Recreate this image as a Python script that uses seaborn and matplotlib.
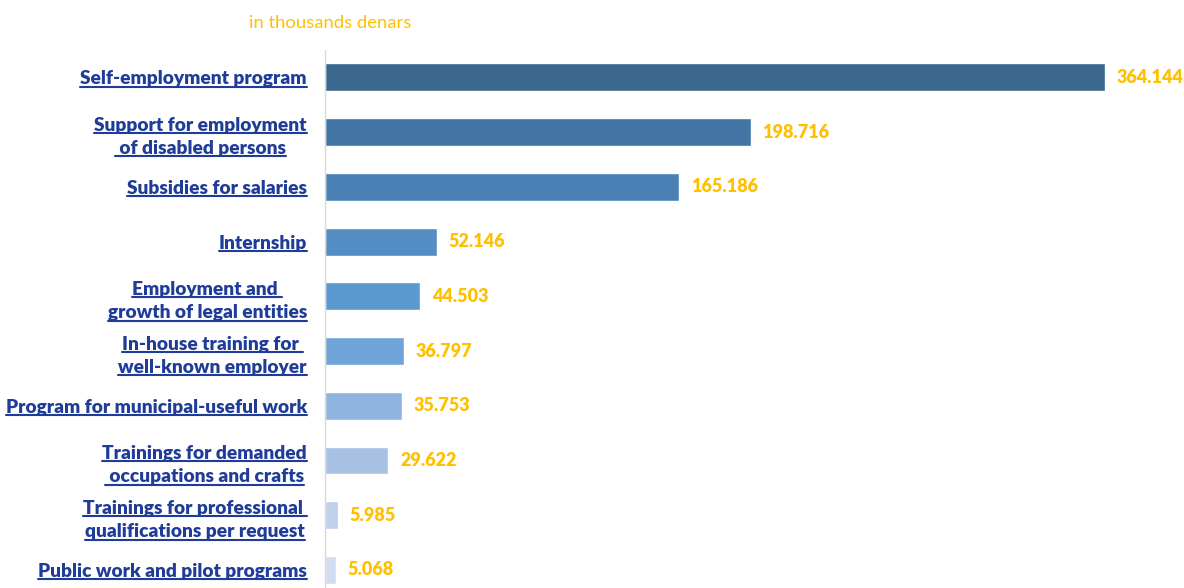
import matplotlib
matplotlib.use("Agg")
import matplotlib.pyplot as plt
import seaborn as sns
import pandas as pd
from matplotlib.lines import Line2D

programs = [
    "Self-employment program",
    "Support for employment\n of disabled persons",
    "Subsidies for salaries",
    "Internship",
    "Employment and \ngrowth of legal entities",
    "In-house training for \nwell-known employer",
    "Program for municipal-useful work",
    "Trainings for demanded\n occupations and crafts",
    "Trainings for professional \nqualifications per request",
    "Public work and pilot programs",
]
amounts = [364.144, 198.716, 165.186, 52.146, 44.503, 36.797, 35.753, 29.622, 5.985, 5.068]
bar_colors = ["#3C6890", "#4375A4", "#4A80B3", "#538DC4", "#5A9AD0",
              "#70A3D7", "#8EB4DF", "#A8C2E5", "#BED0EC", "#D0DDF0"]

label_color = "#1F3C99"
value_color = "#FFC000"
line_spacing = 1.45

sns.set_theme(style="white")
plt.rcParams["font.family"] = ["Lato", "DejaVu Sans"]

df = pd.DataFrame({"program": programs, "amount": amounts})

fig = plt.figure(figsize=(11.84, 5.88), dpi=100)
ax = fig.add_axes([325 / 1184, 0.0, 857 / 1184, 538 / 588])

sns.barplot(data=df, y="program", x="amount", hue="program", palette=bar_colors,
            orient="h", width=0.51, legend=False, ax=ax, saturation=1)

ax.set_xlim(0, 400)
ax.set_ylim(9.33, -0.5)
ax.set_xlabel("")
ax.set_ylabel("")
ax.set_xticks([])
for s in ["top", "right", "bottom"]:
    ax.spines[s].set_visible(False)
ax.spines["left"].set_color("#D9D9D9")
ax.spines["left"].set_linewidth(1.0)
ax.tick_params(axis="y", length=0, pad=13)

for lab in ax.get_yticklabels():
    lab.set_fontsize(13.8)
    lab.set_fontweight("heavy")
    lab.set_color(label_color)
    lab.set_multialignment("center")
    lab.set_linespacing(line_spacing)

for cont in ax.containers:
    ax.bar_label(cont, labels=[f"{v:.3f}" for v in cont.datavalues], padding=8.5,
                 color=value_color, fontsize=13, fontweight="heavy")

fig.text(249 / 1184, 1 - 23 / 588, "in thousands denars", color=value_color,
         fontsize=13.3, va="center", ha="left")

# underline each line of the category labels, just below its baseline
fig.canvas.draw()
renderer = fig.canvas.get_renderer()
to_fig = fig.transFigure.inverted()
for lab in ax.get_yticklabels():
    lines = lab.get_text().split("\n")
    bb = lab.get_window_extent(renderer)
    fp = lab.get_fontproperties()
    _, lp_h, lp_d = renderer.get_text_width_height_descent("lp", fp, ismath=False)
    ascent = lp_h - lp_d
    pitch = ascent * line_spacing + lp_d
    widths = [renderer.get_text_width_height_descent(ln, fp, ismath=False)[0]
              for ln in lines]
    block_w = max(widths)
    cx = bb.x1 - block_w / 2
    for i, w in enumerate(widths):
        baseline = bb.y1 - ascent - i * pitch
        y_ul = baseline - 2.5
        fx0, fy = to_fig.transform((cx - w / 2, y_ul))
        fx1, _ = to_fig.transform((cx + w / 2, y_ul))
        fig.add_artist(Line2D([fx0, fx1], [fy, fy], color=label_color, lw=1.5,
                              transform=fig.transFigure))

fig.savefig("out.png", dpi=100)
